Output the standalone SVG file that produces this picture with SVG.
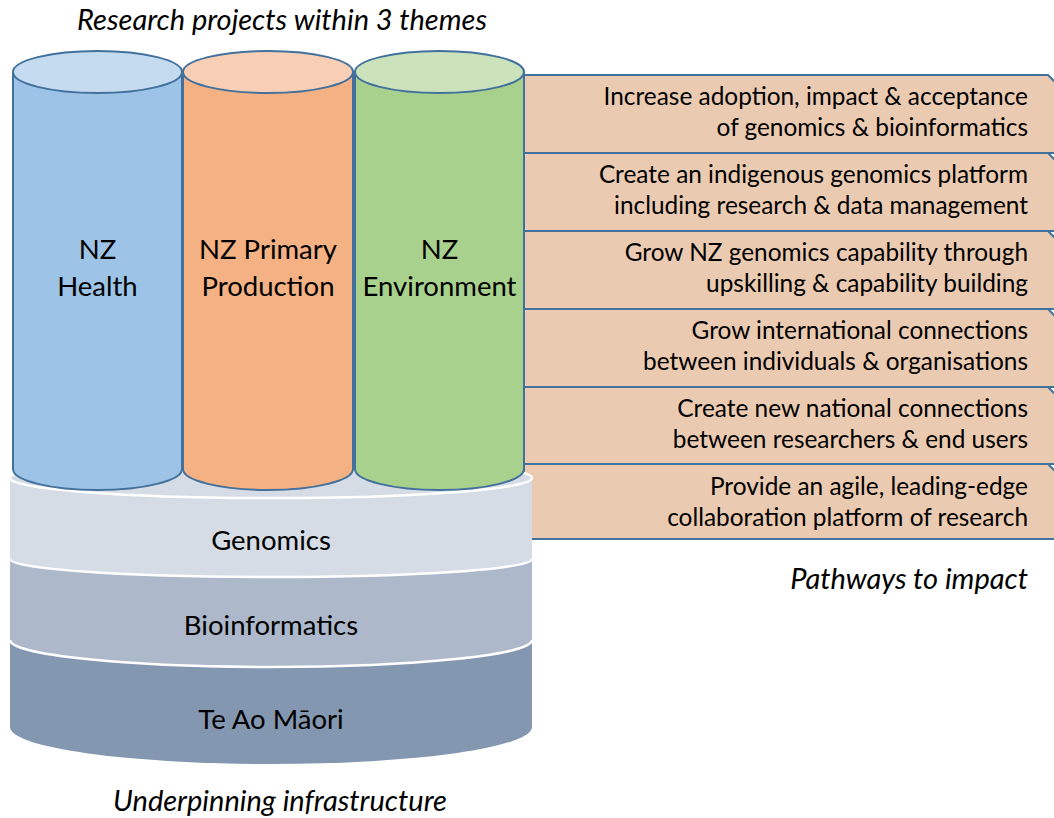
<svg xmlns="http://www.w3.org/2000/svg" width="1054" height="818" viewBox="0 0 1054 818">
  <style>
    .t { font-family: Lato, "Liberation Sans", sans-serif; fill: #000; }
    .box-t { font-size: 24.4px; text-anchor: end; }
    .cyl-t { font-size: 27.5px; text-anchor: middle; }
    .cap { font-size: 29px; font-style: italic; }
    .box { fill: #EBCAB2; stroke: #41719C; stroke-width: 2; }
    .cyl { stroke: #41719C; stroke-width: 2; }
    .seam { fill: none; stroke: #FFFFFF; stroke-width: 2.5; }
  </style>

  <rect width="1054" height="818" fill="#FFFFFF"/>

  <!-- captions -->
  <text class="t cap" x="282" y="30" text-anchor="middle">Research projects within 3 themes</text>
  <text class="t cap" x="1028" y="589" text-anchor="end">Pathways to impact</text>
  <text class="t cap" x="280" y="811" text-anchor="middle">Underpinning infrastructure</text>

  <!-- pathway boxes (stacked, behind the cylinders) -->
  <g id="box1">
    <path class="box" d="M524,75 L1048,75 L1060,87 L1060,153 L524,153 Z"/>
    <text class="t box-t" x="1028" y="105">Increase adoption, impact &amp; acceptance</text>
    <text class="t box-t" x="1028" y="136">of genomics &amp; bioinformatics</text>
  </g>
  <g id="box2">
    <path class="box" d="M524,153 L1048,153 L1060,165 L1060,231 L524,231 Z"/>
    <text class="t box-t" x="1028" y="183">Create an indigenous genomics platform</text>
    <text class="t box-t" x="1028" y="214">including research &amp; data management</text>
  </g>
  <g id="box3">
    <path class="box" d="M524,231 L1048,231 L1060,243 L1060,309 L524,309 Z"/>
    <text class="t box-t" x="1028" y="261">Grow NZ genomics capability through</text>
    <text class="t box-t" x="1028" y="292">upskilling &amp; capability building</text>
  </g>
  <g id="box4">
    <path class="box" d="M524,309 L1048,309 L1060,321 L1060,387 L524,387 Z"/>
    <text class="t box-t" x="1028" y="339">Grow international connections</text>
    <text class="t box-t" x="1028" y="370">between individuals &amp; organisations</text>
  </g>
  <g id="box5">
    <path class="box" d="M524,387 L1048,387 L1060,399 L1060,464 L524,464 Z"/>
    <text class="t box-t" x="1028" y="417">Create new national connections</text>
    <text class="t box-t" x="1028" y="448">between researchers &amp; end users</text>
  </g>
  <g id="box6">
    <path class="box" d="M524,464 L1048,464 L1060,476 L1060,539 L524,539 Z"/>
    <text class="t box-t" x="1028" y="495">Provide an agile, leading-edge</text>
    <text class="t box-t" x="1028" y="526">collaboration platform of research</text>
  </g>

  <!-- underpinning layers -->
  <g id="te-ao-maori">
    <path d="M10,640 L10,727 A261,37 0 0 0 532,727 L532,640 Z" fill="#8497B0"/>
    <text class="t cyl-t" x="271" y="729">Te Ao Māori</text>
  </g>
  <g id="bioinformatics">
    <path d="M10,559 L10,640 A261,27 0 0 0 532,640 L532,559 Z" fill="#ADB9CA"/>
    <path class="seam" d="M10,640 A261,27 0 0 0 532,640"/>
    <text class="t cyl-t" x="271" y="635">Bioinformatics</text>
  </g>
  <g id="genomics">
    <path d="M10,478 A261,20 0 0 1 532,478 L532,559 A261,18 0 0 1 10,559 Z" fill="#D6DCE5"/>
    <path class="seam" d="M10,559 A261,18 0 0 0 532,559"/>
    <ellipse cx="271" cy="478" rx="261" ry="20" fill="#D6DCE5" stroke="#FFFFFF" stroke-width="2.5"/>
    <text class="t cyl-t" x="271" y="550">Genomics</text>
  </g>

  <!-- research theme cylinders -->
  <g id="nz-health">
    <path class="cyl" d="M13,72 L13,469 A84.5,21 0 0 0 182,469 L182,72 Z" fill="#9DC3E6"/>
    <ellipse class="cyl" cx="97.5" cy="72" rx="84.5" ry="21" fill="#C5DBF0"/>
    <text class="t cyl-t" x="97.5" y="259">NZ</text>
    <text class="t cyl-t" x="97.5" y="296">Health</text>
  </g>
  <g id="nz-primary-production">
    <path class="cyl" d="M183,72 L183,469 A85,21 0 0 0 353,469 L353,72 Z" fill="#F4B183"/>
    <ellipse class="cyl" cx="268" cy="72" rx="85" ry="21" fill="#F8CFB4"/>
    <text class="t cyl-t" x="268" y="259">NZ Primary</text>
    <text class="t cyl-t" x="268" y="296">Production</text>
  </g>
  <g id="nz-environment">
    <path class="cyl" d="M355,72 L355,469 A84.5,21 0 0 0 524,469 L524,72 Z" fill="#A9D18E"/>
    <ellipse class="cyl" cx="439.5" cy="72" rx="84.5" ry="21" fill="#CBE2BB"/>
    <text class="t cyl-t" x="439.5" y="259">NZ</text>
    <text class="t cyl-t" x="439.5" y="296">Environment</text>
  </g>

  <g id="connectors"/>
</svg>
